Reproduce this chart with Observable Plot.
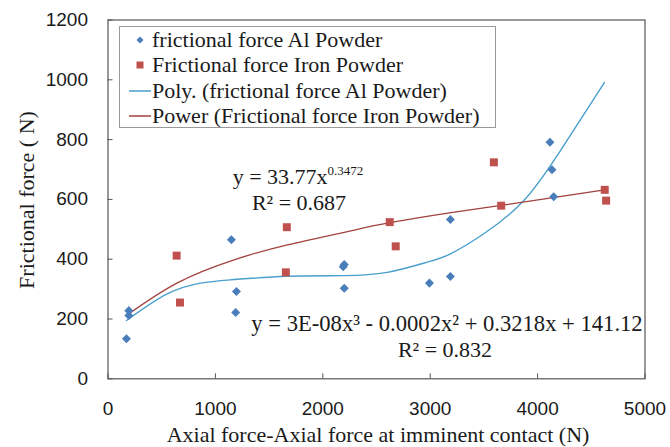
<!DOCTYPE html>
<html>
<head>
<meta charset="utf-8">
<script src="https://cdn.jsdelivr.net/npm/d3@7"></script>
<script src="https://cdn.jsdelivr.net/npm/@observablehq/plot@0.6"></script>
<style>
  html, body { margin: 0; padding: 0; background: #fff; }
  #wrap { position: relative; width: 670px; height: 447px; overflow: hidden; }
  #wrap > svg { position: absolute; left: 0; top: 0; }
  .ov { position: absolute; white-space: nowrap; font-family: "Liberation Serif", serif; color: #1a1a1a; line-height: 1; }
  .ctr { transform: translateX(-50%); }
  #legend { position: absolute; left: 119px; top: 26px; width: 375px; height: 100px; border: 1px solid #9a9a9a; background: #fff; }
  .lrow { position: absolute; left: 0; height: 24px; display: flex; align-items: center; font-family: "Liberation Serif", serif; font-size: 22px; color: #1a1a1a; white-space: nowrap; }
  #legend .lrow svg { position: static; margin-left: 9px; margin-right: 1px; flex: none; }
</style>
</head>
<body>
<div id="wrap"></div>
<script>
// ---- data ----
const alX = [172, 194, 194, 1149, 1196, 1189, 2200, 2190, 2200, 2993, 3188, 3188, 4115, 4134, 4150];
const alY = [134, 228, 212, 465, 292, 222, 382, 375, 303, 320, 342, 533, 791, 699, 609];

const ironX = [639, 670, 1665, 1656, 2623, 2679, 3593, 3661, 4625, 4638];
const ironY = [412, 255, 507, 356, 524, 443, 724, 579, 632, 596];

// trendline traces
const polyX = [172, 551, 861, 1141, 1669, 2196, 2600, 2972, 3189, 3499, 3872, 4213, 4623];
const polyY = [195, 284, 320, 331, 343, 345, 356, 390, 418, 485, 596, 763, 991];

const powX = [172, 646, 1174, 1671, 2200, 2623, 3195, 3661, 4128, 4625];
const powY = [212, 321, 398, 448, 490, 522, 556, 580, 605, 632];

const xTicks = [0, 1000, 2000, 3000, 4000, 5000];
const yTicks = [0, 200, 400, 600, 800, 1000, 1200];

const seriesNames = ["frictional force Al Powder", "Frictional force Iron Powder",
  "Poly. (frictional force Al Powder)", "Power (Frictional force Iron Powder)"];
const xTitle = "Axial force-Axial force at imminent contact (N)";
const yTitle = "Frictional force ( N)";
const eqPower = ["y = 33.77x", "0.3472", "R² = 0.687"];
const eqPoly = ["y = 3E-08x³ - 0.0002x² + 0.3218x + 141.12", "R² = 0.832"];

const cBlue = "#4a7ebb", cRed = "#c0504d", cPoly = "#4aa0cc", cPow = "#a2423f";

// ---- tables ----
const al = alX.map((x, i) => ({x, y: alY[i]}));
const iron = ironX.map((x, i) => ({x, y: ironY[i]}));
const poly = polyX.map((x, i) => ({x, y: polyY[i]}));
const pow = powX.map((x, i) => ({x, y: powY[i]}));

const diamond = {
  draw(ctx, size) {
    const h = Math.sqrt(size / 2);
    ctx.moveTo(0, -h); ctx.lineTo(h, 0); ctx.lineTo(0, h); ctx.lineTo(-h, 0); ctx.closePath();
  }
};

const fmt = d => String(d);

const chart = Plot.plot({
  width: 670,
  height: 447,
  marginLeft: 107.5,
  marginRight: 25.5,
  marginTop: 19.5,
  marginBottom: 68.7,
  x: {domain: [0, 5000]},
  y: {domain: [0, 1200]},
  style: {background: "#fff", color: "#1a1a1a", fontFamily: "Liberation Sans, Arial, sans-serif", fontSize: "19px"},
  marks: [
    Plot.frame({stroke: "#555", strokeWidth: 1.2}),
    Plot.axisX(xTicks, {tickSize: 5, dy: -5, fill: "none", stroke: "#555", label: null}),
    Plot.axisY(yTicks, {tickSize: 5, dx: 5, fill: "none", stroke: "#555", label: null}),
    Plot.axisX(xTicks, {tickSize: 0, tickPadding: 23, fontSize: 19, tickFormat: fmt, label: null}),
    Plot.axisY(yTicks, {tickSize: 0, tickPadding: 20, fontSize: 19, tickFormat: fmt, label: null}),
    Plot.line(poly, {x: "x", y: "y", stroke: cPoly, strokeWidth: 1.4, curve: "natural"}),
    Plot.line(pow, {x: "x", y: "y", stroke: cPow, strokeWidth: 1.3, curve: "natural"}),
    Plot.dot(iron, {x: "x", y: "y", symbol: "square", r: 4.5, fill: cRed, stroke: "none"}),
    Plot.dot(al, {x: "x", y: "y", symbol: diamond, r: 3.6, fill: cBlue, stroke: "none"})
  ]
});

const wrap = document.getElementById("wrap");
wrap.appendChild(chart);

function addDiv(html, cls, style) {
  const d = document.createElement("div");
  d.className = "ov " + cls;
  d.innerHTML = html;
  Object.assign(d.style, style);
  wrap.appendChild(d);
  return d;
}

// axis titles
addDiv(xTitle, "ctr", {left: "378px", top: "425px", fontSize: "22px", lineHeight: "20px"});
addDiv(yTitle, "", {left: "27px", top: "200px", fontSize: "22px",
  transform: "translate(-50%, -50%) rotate(-90deg)"});

// equations
addDiv(eqPower[0] + '<span style="font-size:13px;position:relative;top:-9px;">' + eqPower[1] + '</span>', "ctr",
  {left: "298px", top: "166px", fontSize: "22px"});
addDiv(eqPower[2], "ctr", {left: "299px", top: "192px", fontSize: "22px"});
addDiv(eqPoly[0], "ctr", {left: "447px", top: "313px", fontSize: "22.6px"});
addDiv(eqPoly[1], "ctr", {left: "445px", top: "339px", fontSize: "22px"});

// legend
const legend = document.createElement("div");
legend.id = "legend";
wrap.appendChild(legend);
const rowTops = [1, 26, 52, 77];
const sym = [
  `<svg width="22" height="12"><path d="M11,2.5 L14.5,6 L11,9.5 L7.5,6Z" fill="${cBlue}"/></svg>`,
  `<svg width="22" height="12"><rect x="7.5" y="2.5" width="7" height="7" fill="${cRed}"/></svg>`,
  `<svg width="22" height="12"><line x1="0" y1="6" x2="22" y2="6" stroke="${cPoly}" stroke-width="1.5"/></svg>`,
  `<svg width="22" height="12"><line x1="0" y1="6" x2="22" y2="6" stroke="${cPow}" stroke-width="1.5"/></svg>`
];
seriesNames.forEach((name, i) => {
  const r = document.createElement("div");
  r.className = "lrow";
  r.style.top = rowTops[i] + "px";
  r.innerHTML = sym[i] + "<span>" + name + "</span>";
  legend.appendChild(r);
});
</script>
</body>
</html>
